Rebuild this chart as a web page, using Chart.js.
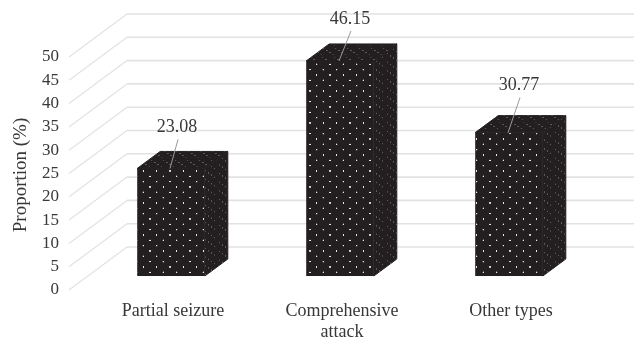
<!DOCTYPE html>
<html>
<head>
<meta charset="utf-8">
<title>Proportion by seizure type</title>
<script src="https://cdn.jsdelivr.net/npm/chart.js@4/dist/chart.umd.min.js"></script>
<style>
  html, body { margin: 0; padding: 0; background: #fff; }
  canvas { display: block; }
</style>
</head>
<body>
<canvas id="mycanvas" width="640" height="338"></canvas>
<script>
var categories = ["Partial seizure", ["Comprehensive", "attack"], "Other types"];
var proportion = [23.08, 46.15, 30.77];
var valueLabels = ["23.08", "46.15", "30.77"];
var axisTitle = "Proportion (%)";

// where each value label sits, relative to the top of its bar
var labelShift = [[6, -41], [10, -42], [10, -47]];

var textColor = "#383838";
var gridColor = "#e2e2e2";
var barColor = "#231f20";
var serif = "'Liberation Serif', serif";

// floor depth of the walls and of the boxes, in pixels
var frontWall = { dx: -17.5, dy: 14 };
var backWall = { dx: 40.5, dy: -29 };
var boxDepth = { dx: 23, dy: -17 };

// dotted fill, drawn at 3x and scaled down so the spacing can be fractional
function dotTile(dotColor, radius) {
    var c = document.createElement("canvas");
    c.width = 40;
    c.height = 32;
    var g = c.getContext("2d");
    g.fillStyle = barColor;
    g.fillRect(0, 0, 40, 32);
    g.fillStyle = dotColor;
    [[10, 8], [30, 24]].forEach(function (p) {
        g.beginPath();
        g.arc(p[0], p[1], radius, 0, Math.PI * 2);
        g.fill();
    });
    return c;
}

function dotPattern(ctx, dotColor, radius, matrix) {
    var p = ctx.createPattern(dotTile(dotColor, radius), "repeat");
    p.setTransform(matrix);
    return p;
}

var ctx = document.getElementById("mycanvas").getContext("2d");
var frontFill = dotPattern(ctx, "#e8e8e8", 2.4, new DOMMatrix([1 / 3, 0, 0, 1 / 3, 0, 3]));
var sideFill = dotPattern(ctx, "#5f5d5e", 3, new DOMMatrix([0.14, -0.1, 0, 0.27, 0, 0]));
var topFill = dotPattern(ctx, "#5f5d5e", 3, new DOMMatrix([0.3, 0, -0.2, 0.14, 0, 0]));

// stroked in the bar colour as well, so no seam shows between faces
function polygon(c, pts, fill) {
    c.beginPath();
    pts.forEach(function (p, i) {
        if (i === 0) c.moveTo(p[0], p[1]);
        else c.lineTo(p[0], p[1]);
    });
    c.closePath();
    c.strokeStyle = barColor;
    c.lineWidth = 1;
    c.stroke();
    c.fillStyle = fill;
    c.fill();
}

// wall lines behind the boxes, one per y tick
var walls = {
    id: "walls",
    beforeDatasetsDraw: function (chart) {
        var c = chart.ctx;
        var y = chart.scales.y;
        var x = chart.scales.x;
        c.save();
        y.ticks.forEach(function (t) {
            var py = y.getPixelForValue(t.value);
            c.strokeStyle = gridColor;
            c.lineWidth = 1.2;
            c.beginPath();
            c.moveTo(x.left + frontWall.dx, py + frontWall.dy);
            c.lineTo(x.left + backWall.dx, py + backWall.dy);
            c.stroke();
            c.lineWidth = 1.6;
            c.beginPath();
            c.moveTo(x.left + backWall.dx, py + backWall.dy);
            c.lineTo(x.right + backWall.dx, py + backWall.dy);
            c.stroke();
        });
        c.restore();
    }
};

// side and top of each box, then the value labels with their leader lines
var boxes = {
    id: "boxes",
    afterDatasetsDraw: function (chart) {
        var c = chart.ctx;
        c.save();
        chart.getDatasetMeta(0).data.forEach(function (bar, i) {
            var l = bar.x - bar.width / 2;
            var r = bar.x + bar.width / 2;
            var dx = boxDepth.dx;
            var dy = boxDepth.dy;
            polygon(c, [[r, bar.y], [r + dx, bar.y + dy], [r + dx, bar.base + dy], [r, bar.base]], sideFill);
            polygon(c, [[l, bar.y], [r, bar.y], [r + dx, bar.y + dy], [l + dx, bar.y + dy]], topFill);

            var lx = bar.x + labelShift[i][0];
            var ly = bar.y + labelShift[i][1];
            c.strokeStyle = "#9a9a9a";
            c.lineWidth = 1;
            c.beginPath();
            c.moveTo(lx + 1, ly + 12);
            c.lineTo(bar.x - 1, bar.y);
            c.stroke();

            c.fillStyle = textColor;
            c.font = "18px " + serif;
            c.textAlign = "center";
            c.textBaseline = "middle";
            c.fillText(valueLabels[i], lx, ly);
        });

        // axis title is centred on the tick labels, not on the plot area
        c.translate(21, 175);
        c.rotate(-Math.PI / 2);
        c.fillStyle = textColor;
        c.font = "19px " + serif;
        c.textAlign = "center";
        c.textBaseline = "middle";
        c.fillText(axisTitle, 0, 0);
        c.restore();
    }
};

new Chart(ctx, {
    type: "bar",
    data: {
        labels: categories,
        datasets: [{
            data: proportion,
            backgroundColor: frontFill,
            borderWidth: 0,
            barPercentage: 0.4,
            categoryPercentage: 1
        }]
    },
    options: {
        responsive: false,
        animation: false,
        layout: {
            autoPadding: false,
            padding: { top: 43, right: 46.5, bottom: 0, left: 0 }
        },
        plugins: {
            legend: { display: false },
            tooltip: { enabled: false }
        },
        scales: {
            x: {
                grid: { display: false, drawTicks: false },
                border: { display: false },
                afterFit: function (s) { s.height = 62; },
                ticks: {
                    color: textColor,
                    font: { family: serif, size: 18, lineHeight: 1.2 },
                    padding: 24,
                    labelOffset: 2,
                    maxRotation: 0,
                    autoSkip: false
                }
            },
            y: {
                min: 0,
                max: 50,
                grid: { display: false, drawTicks: false },
                border: { display: false },
                afterFit: function (s) { s.width = 86.5; },
                ticks: {
                    stepSize: 5,
                    autoSkip: false,
                    color: textColor,
                    font: { family: serif, size: 17 },
                    padding: 27.5,
                    labelOffset: 14
                }
            }
        }
    },
    plugins: [walls, boxes]
});
</script>
</body>
</html>
